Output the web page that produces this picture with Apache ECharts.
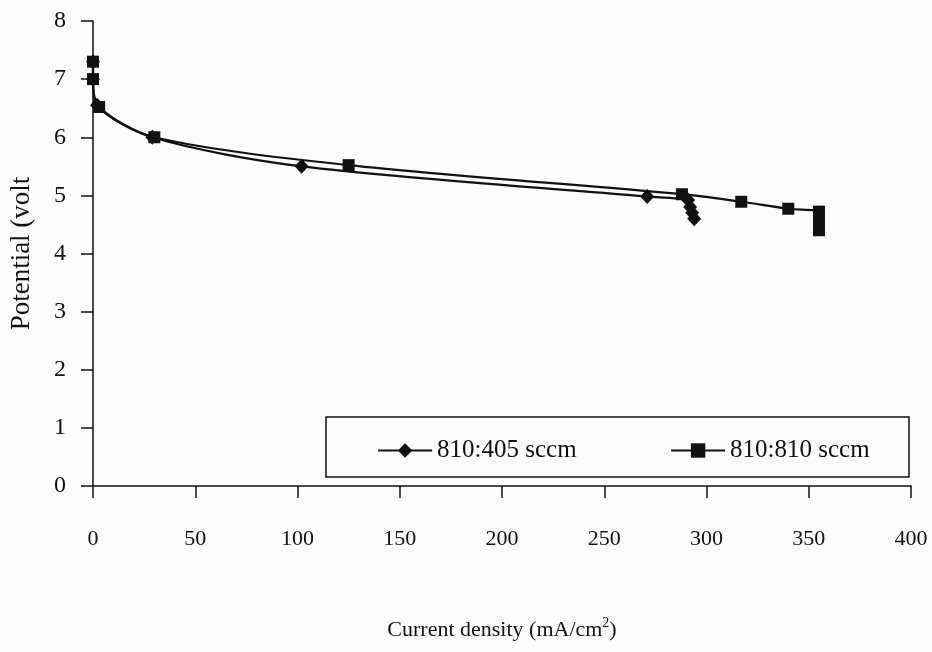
<!DOCTYPE html>
<html>
<head>
<meta charset="utf-8">
<script src="https://cdn.jsdelivr.net/npm/echarts@6/dist/echarts.min.js"></script>
<style>
  html, body { margin: 0; padding: 0; background: #fcfcfc; }
  #chart { width: 932px; height: 652px; }
</style>
</head>
<body>
<div id="chart"></div>
<script>
// Polarization curves: current density (mA/cm2) vs potential (volt)
const seriesNames = ['810:405 sccm', '810:810 sccm'];

const current405 = [0, 0, 2, 29, 102, 271, 291, 292, 293, 294];
const potential405 = [7.3, 7.0, 6.55, 6.0, 5.5, 4.98, 4.92, 4.8, 4.7, 4.6];

const current810 = [0, 0, 3, 30, 125, 288, 317, 340, 355, 355, 355, 355];
const potential810 = [7.3, 7.0, 6.52, 6.0, 5.52, 5.02, 4.89, 4.77, 4.72, 4.6, 4.5, 4.4];

const xTicks = { min: 0, max: 400, interval: 50 };
const yTicks = { min: 0, max: 8, interval: 1 };

const pairs = (xs, ys) => xs.map((x, i) => [x, ys[i]]);

const FONT = '"Liberation Serif", "Times New Roman", serif';
const INK = '#111';

const chart = echarts.init(document.getElementById('chart'));

const legendCommon = {
  top: 433,
  itemWidth: 54,
  itemHeight: 18,
  itemGap: 0,
  lineStyle: { width: 2.2 },
  textStyle: { fontFamily: FONT, fontSize: 25, color: INK }
};

chart.setOption({
  backgroundColor: '#fcfcfc',
  animation: false,
  grid: { left: 92, right: 21, top: 21, bottom: 166 },
  xAxis: {
    type: 'value',
    min: xTicks.min, max: xTicks.max, interval: xTicks.interval,
    name: 'Current density (mA/cm{sup|2})',
    nameLocation: 'middle',
    nameGap: 130,
    nameTextStyle: {
      fontFamily: FONT, fontSize: 22, color: INK,
      rich: { sup: { fontFamily: FONT, fontSize: 14, color: INK, verticalAlign: 'top', padding: [0, 0, 14, 0] } }
    },
    axisLine: { lineStyle: { color: INK, width: 1.5 } },
    axisTick: { show: true, inside: false, length: 12, lineStyle: { color: INK, width: 1.5 } },
    axisLabel: { margin: 42, fontFamily: FONT, fontSize: 22, color: INK },
    splitLine: { show: false }
  },
  yAxis: {
    type: 'value',
    min: yTicks.min, max: yTicks.max, interval: yTicks.interval,
    name: 'Potential (volt',
    nameLocation: 'middle',
    nameGap: 58,
    nameTextStyle: { fontFamily: FONT, fontSize: 27, color: INK },
    axisLine: { show: true, lineStyle: { color: INK, width: 1.5 } },
    axisTick: { show: true, inside: false, length: 12, lineStyle: { color: INK, width: 1.5 } },
    axisLabel: { margin: 27, fontFamily: FONT, fontSize: 24, color: INK },
    splitLine: { show: false }
  },
  legend: [
    Object.assign({ data: [seriesNames[0]], left: 372 }, legendCommon),
    Object.assign({ data: [seriesNames[1]], left: 665 }, legendCommon)
  ],
  graphic: [
    {
      type: 'rect',
      shape: { x: 326, y: 417, width: 583, height: 60 },
      style: { fill: 'none', stroke: INK, lineWidth: 1.5 },
      z: 0
    }
  ],
  series: [
    {
      name: seriesNames[0],
      type: 'line',
      data: pairs(current405, potential405),
      smooth: 0.3,
      symbol: 'diamond',
      symbolSize: [14, 15],
      itemStyle: { color: INK },
      lineStyle: { color: INK, width: 2.2 }
    },
    {
      name: seriesNames[1],
      type: 'line',
      data: pairs(current810, potential810),
      smooth: 0.3,
      symbol: 'rect',
      symbolSize: 12,
      itemStyle: { color: INK },
      lineStyle: { color: INK, width: 2.2 }
    }
  ]
});
</script>
</body>
</html>
